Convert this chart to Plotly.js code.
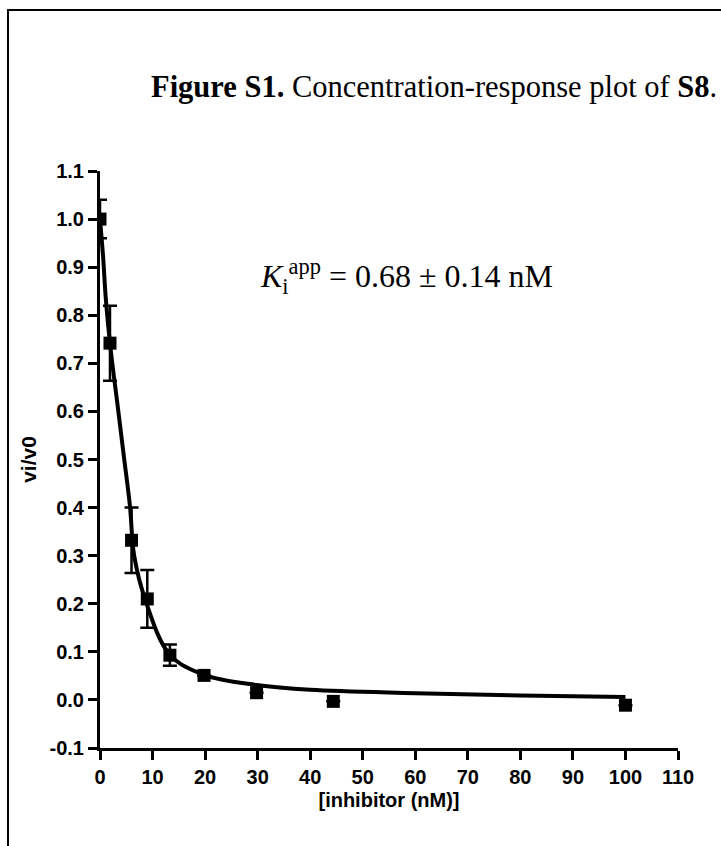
<!DOCTYPE html>
<html>
<head>
<meta charset="utf-8">
<script src="https://cdn.plot.ly/plotly-3.0.1.min.js"></script>
<style>
  html, body { margin: 0; padding: 0; background: #fff; }
  #wrap { position: relative; width: 721px; height: 846px; overflow: hidden; }
  #frame { position: absolute; left: 7px; top: 9px; width: 730px; height: 860px;
           border-left: 2px solid #000; border-top: 2px solid #000; pointer-events: none; }
  #chart { position: absolute; left: 0; top: 0; width: 721px; height: 846px; }
</style>
</head>
<body>
<div id="wrap">
  <div id="chart"></div>
  <div id="frame"></div>
</div>
<script>
// Measured data (inhibitor concentration, nM) and mean vi/v0 with error
const concentration = [0, 1.9, 6.0, 9.0, 13.3, 19.8, 29.8, 44.4, 100];
const response      = [1.0, 0.742, 0.332, 0.21, 0.093, 0.051, 0.015, -0.003, -0.011];
const responseError = [0.04, 0.078, 0.068, 0.06, 0.022, null, null, null, null];

// Fitted curve
const curveX = [0, 0.6, 1.1, 1.9, 2.7, 3.2, 4.5, 5.7, 6.5, 8.6, 13.3, 19.8, 29.8, 40, 60, 80, 100];
const curveY = [1.0, 0.92, 0.835, 0.742, 0.668, 0.626, 0.51, 0.403, 0.30, 0.209, 0.094, 0.052, 0.031, 0.021, 0.014, 0.009, 0.006];

const xTickVals = [0, 10, 20, 30, 40, 50, 60, 70, 80, 90, 100, 110];
const yTickVals = [-0.1, 0.0, 0.1, 0.2, 0.3, 0.4, 0.5, 0.6, 0.7, 0.8, 0.9, 1.0, 1.1];

const titleText = "<b>Figure S1.</b> Concentration-response plot of <b>S8</b>.";
const kiText = "<i>K</i><sub>i</sub><sup>app</sup> = 0.68 ± 0.14 nM";
const xTitle = "[inhibitor (nM)]";
const yTitle = "vi/v0";

const tickFont = { family: "Liberation Sans, Arial, sans-serif", size: 20, color: "#000", weight: "bold" };

const traces = [
  {
    x: curveX, y: curveY, type: "scatter", mode: "lines",
    line: { color: "#000", width: 4, shape: "spline", smoothing: 1 },
    hoverinfo: "skip", showlegend: false
  },
  {
    x: concentration, y: response, type: "scatter", mode: "markers",
    marker: { symbol: "square", size: 13, color: "#000" },
    error_y: { type: "data", array: responseError, visible: true, color: "#000", thickness: 2.5, width: 7 },
    showlegend: false
  }
];

const layout = {
  width: 721, height: 846,
  margin: { l: 100, r: 43, t: 171, b: 98 },
  paper_bgcolor: "#fff", plot_bgcolor: "#fff",
  showlegend: false,
  xaxis: {
    range: [0, 110], tickvals: xTickVals, ticktext: xTickVals.map(String),
    showgrid: false, zeroline: false, showline: true, linecolor: "#000", linewidth: 3,
    ticks: "outside", ticklen: 9, tickwidth: 3, tickcolor: "#000",
    tickfont: tickFont,
    title: { text: "<b>" + xTitle + "</b>", font: { family: "Liberation Sans, Arial, sans-serif", size: 20, color: "#000" }, standoff: 6 }
  },
  yaxis: {
    range: [-0.1, 1.1], tickvals: yTickVals, ticktext: yTickVals.map(v => v.toFixed(1)),
    showgrid: false, zeroline: false, showline: true, linecolor: "#000", linewidth: 3,
    ticks: "outside", ticklen: 9, tickwidth: 3, tickcolor: "#000",
    tickfont: tickFont,
    title: { text: "<b>" + yTitle + "</b>", font: { family: "Liberation Sans, Arial, sans-serif", size: 21, color: "#000" }, standoff: 8 }
  },
  annotations: [
    {
      text: titleText, xref: "paper", yref: "paper", x: 0.578, y: 1.1456,
      xanchor: "center", yanchor: "middle", showarrow: false,
      font: { family: "Liberation Serif, Times New Roman, serif", size: 30.5, color: "#000" }
    },
    {
      text: kiText, xref: "x", yref: "y", x: 58.3, y: 0.881,
      xanchor: "center", yanchor: "middle", showarrow: false,
      font: { family: "Liberation Serif, Times New Roman, serif", size: 32, color: "#000" }
    }
  ]
};

Plotly.newPlot("chart", traces, layout, { displayModeBar: false, staticPlot: true });
</script>
</body>
</html>
